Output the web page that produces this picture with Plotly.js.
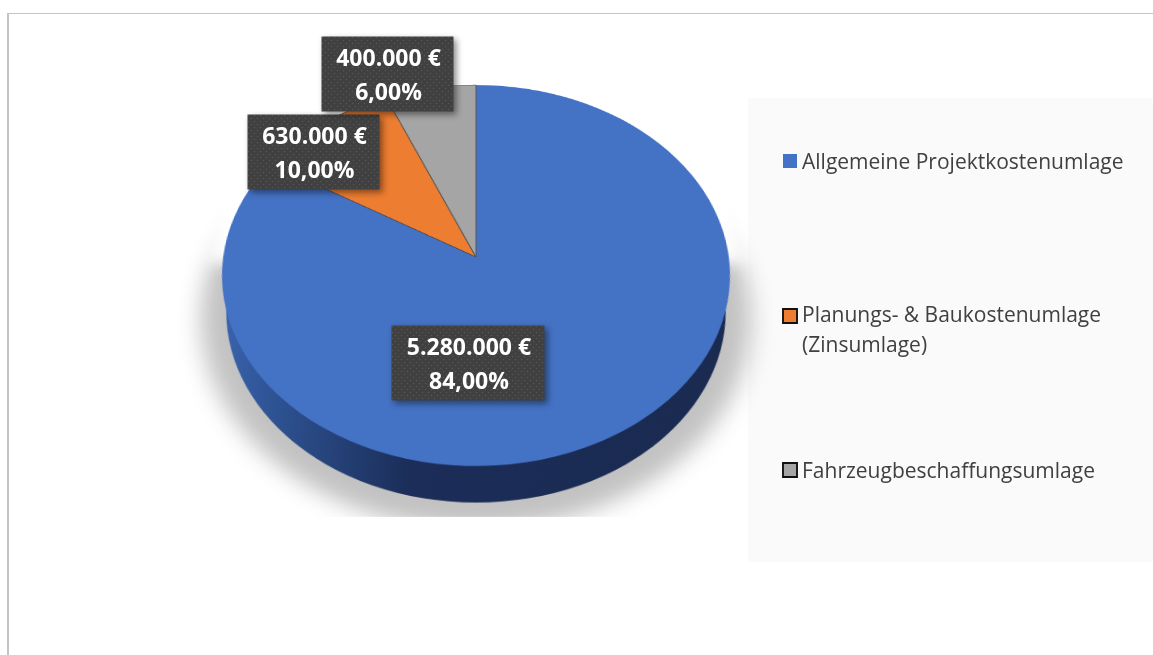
<!DOCTYPE html>
<html lang="de">
<head>
<meta charset="utf-8">
<script src="https://cdn.plot.ly/plotly-3.0.1.min.js"></script>
<style>
html,body{margin:0;padding:0;background:#fff;overflow:hidden}
#stage{position:relative;width:1153px;height:655px;overflow:hidden}
#frame{position:absolute;left:7px;top:13px;width:1146px;height:642px;border-top:1px solid #c4c4c4;border-left:2px solid #c4c4c4;box-sizing:border-box}
#panel{position:absolute;left:748px;top:98px;width:405px;height:464px;background:#fafafa}
#chart{position:absolute;left:0;top:0;width:1153px;height:655px}
</style>
</head>
<body>
<div id="stage">
<div id="frame"></div>
<div id="panel"></div>
<div id="chart"></div>
</div>
<script>
// data
const categories = ["Allgemeine Projektkostenumlage", "Planungs- & Baukostenumlage<br>(Zinsumlage)", "Fahrzeugbeschaffungsumlage"];
const euroValues = [5280000, 630000, 400000];
const euroLabels = ["5.280.000 €", "630.000 €", "400.000 €"];
const percentLabels = ["84,00%", "10,00%", "6,00%"];
const sliceColors = ["#4472c4", "#ed7d31", "#a5a5a5"];

// geometry of the tilted disc (pixels)
const W = 1153, H = 655;
const cx = 476, cy = 257, R = 252.8;
const tiltDeg = 41.7, persp = 1732;
const sideR = 244, sideDrop = 48;
const shadowR = 268, shadowDrop = 52;
const floorY = 307, shadowTop = 8;
const labelX = [468, 313.5, 387.5], labelY = [363, 152, 74];
const labelW = [152, 131, 131], labelH = 74;
const legendY = [161, 327, 470];
const swatchLift = [0, 11, 0];

const px = v => v / W, py = v => 1 - v / H;
const disc = (r, drop, fill) => ({type: "circle", xref: "paper", yref: "paper", layer: "below",
  x0: px(cx - r), x1: px(cx + r), y0: py(cy + drop + r), y1: py(cy + drop - r),
  fillcolor: fill, line: {width: 0}});

const trace = {
  type: "pie", labels: categories, values: euroValues, sort: false, direction: "clockwise", rotation: 0,
  textinfo: "none", hoverinfo: "skip",
  domain: {x: [px(cx - R), px(cx + R)], y: [py(cy + R), py(cy - R)]},
  marker: {colors: sliceColors, line: {color: ["#4472c4", "#444444", "#555555"], width: [0, 1, 1]}}
};

const layout = {
  width: W, height: H, margin: {l: 0, r: 0, t: 0, b: 0},
  paper_bgcolor: "rgba(0,0,0,0)", plot_bgcolor: "rgba(0,0,0,0)",
  font: {family: "'Open Sans', sans-serif", color: "#404040"},
  showlegend: true,
  legend: {x: px(762), xanchor: "left", y: py(150), yanchor: "top", bgcolor: "rgba(0,0,0,0)",
    font: {size: 21, color: "#404040"}, traceorder: "normal"},
  shapes: [
    disc(shadowR, shadowDrop, "#c2c2c2"),
    {type: "rect", xref: "paper", yref: "paper", layer: "below",
     x0: px(cx - 225), x1: px(cx + 225), y0: 0, y1: py(cy + floorY), fillcolor: "#ffffff", line: {width: 0}},
    {type: "rect", xref: "paper", yref: "paper", layer: "below",
     x0: px(cx - 268), x1: px(cx + 268), y0: py(cy + shadowTop), y1: 1, fillcolor: "#ffffff", line: {width: 0}},
    disc(sideR, sideDrop, "#1b2b52")
  ],
  annotations: euroLabels.map((t, i) => ({
    xref: "paper", yref: "paper", x: px(labelX[i]), y: py(labelY[i]), xanchor: "center", yanchor: "middle",
    text: "<b>" + t + "<br>" + percentLabels[i] + "</b>", showarrow: false, align: "center", valign: "middle",
    width: labelW[i], height: labelH, bgcolor: "#404040", borderpad: 0,
    font: {family: "'Open Sans', sans-serif", size: 23, color: "#ffffff"}
  }))
};

Plotly.newPlot("chart", [trace], layout, {displayModeBar: false, staticPlot: true}).then(gd => {
  const svgs = gd.querySelectorAll(".main-svg");
  const base = svgs[0], top = svgs[1];
  base.style.overflow = "visible";
  base.style.transformOrigin = cx + "px " + cy + "px";
  base.style.transform = "perspective(" + persp + "px) rotateX(" + tiltDeg + "deg)";

  const NS = "http://www.w3.org/2000/svg";
  const defs = base.querySelector("defs") || base.insertBefore(document.createElementNS(NS, "defs"), base.firstChild);
  defs.insertAdjacentHTML("beforeend",
    '<linearGradient xmlns="' + NS + '" id="sideGrad" x1="0" x2="1" y1="0" y2="0">' +
    '<stop offset="0" stop-color="#3a63ad"/><stop offset="0.1" stop-color="#2f5597"/>' +
    '<stop offset="0.38" stop-color="#1b2d58"/><stop offset="1" stop-color="#1a2a50"/></linearGradient>');
  const shapePaths = base.querySelectorAll(".shapelayer path");
  shapePaths[0].style.filter = "blur(11px)";
  shapePaths[2].style.filter = "blur(9px)";
  shapePaths[3].style.fill = "url(#sideGrad)";

  // annotation boxes: dotted texture and drop shadow
  const topDefs = top.querySelector("defs") || top.insertBefore(document.createElementNS(NS, "defs"), top.firstChild);
  topDefs.innerHTML += '<pattern xmlns="' + NS + '" id="dots" width="6" height="6" patternUnits="userSpaceOnUse">' +
    '<rect width="6" height="6" fill="#404040"/><circle cx="1.5" cy="1.5" r="0.8" fill="#555"/><circle cx="4.5" cy="4.5" r="0.8" fill="#555"/></pattern>';
  top.querySelectorAll(".annotation").forEach(a => {
    a.style.filter = "drop-shadow(3px 3px 3px rgba(0,0,0,.45))";
    const bg = a.querySelector("rect.bg");
    if (bg) bg.style.fill = "url(#dots)";
    a.querySelectorAll("tspan.line").forEach((l, k) => { if (k > 0) l.setAttribute("dy", "34"); });
    const txt = a.querySelector("text");
    if (txt) txt.setAttribute("transform", (txt.getAttribute("transform") || "") + " translate(1,-2)");
  });

  // spread the legend entries over the panel
  const legend = top.querySelector(".legend");
  const box = legend.querySelector(".scrollbox");
  if (box) box.removeAttribute("clip-path");
  const ly = legend.getCTM ? legend.getCTM().f : 150;
  legend.querySelectorAll(".traces").forEach((g, i) => {
    g.querySelectorAll("tspan.line").forEach((l, k) => { if (k > 0) l.setAttribute("dy", "30"); });
    g.setAttribute("transform", "translate(0," + (legendY[i] - ly) + ")");
    const sym = g.querySelector(".legendpoints path, .legendpie");
    if (sym) {
      sym.setAttribute("transform", "translate(28," + (-swatchLift[i]) + ") scale(1.17)");
      if (i > 0) { sym.style.stroke = "#111"; sym.style.strokeWidth = "1.6px"; }
    }
  });
});
</script>
</body>
</html>
